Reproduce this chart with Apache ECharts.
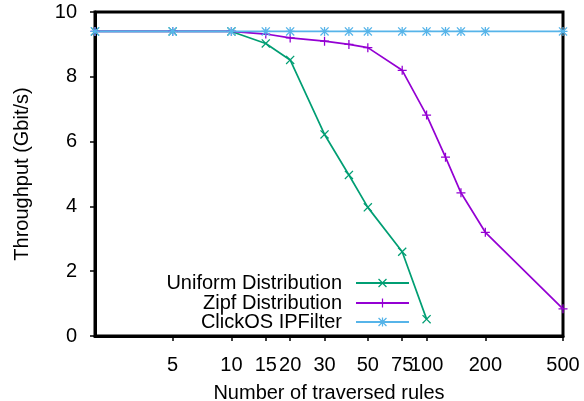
<!DOCTYPE html>
<html>
<head>
<meta charset="utf-8">
<script src="https://cdn.jsdelivr.net/npm/echarts@6/dist/echarts.min.js"></script>
<style>
html,body{margin:0;padding:0;background:#fff;}
#chart{width:584px;height:401px;}
</style>
</head>
<body>
<div id="chart"></div>
<script>
// ---- data ----
const seriesNames = ['Uniform Distribution', 'Zipf Distribution', 'ClickOS IPFilter'];
const uniformX = [2, 5, 10, 15, 20, 30, 40, 50, 75, 100];
const uniformY = [9.4, 9.4, 9.4, 9.03, 8.52, 6.22, 4.97, 3.97, 2.6, 0.52];
const zipfX = [2, 5, 10, 15, 20, 30, 40, 50, 75, 100, 125, 150, 200, 500];
const zipfY = [9.4, 9.4, 9.4, 9.32, 9.2, 9.1, 9.0, 8.9, 8.2, 6.82, 5.52, 4.42, 3.2, 0.84];
const clickX = [2, 5, 10, 15, 20, 30, 40, 50, 75, 100, 125, 150, 200, 500];
const clickY = [9.4, 9.4, 9.4, 9.4, 9.4, 9.4, 9.4, 9.4, 9.4, 9.4, 9.4, 9.4, 9.4, 9.4];
const xTickValues = [5, 10, 15, 20, 30, 50, 75, 100, 200, 500];
const yTickValues = [0, 2, 4, 6, 8, 10];

// ---- styles ----
const FONT = 'Liberation Sans';
const FS = 20;
const colors = ['#009e73', '#9400d3', '#56b4e9'];
const symPlus = 'path://M-0.7,-5L0.7,-5L0.7,-0.7L5,-0.7L5,0.7L0.7,0.7L0.7,5L-0.7,5L-0.7,0.7L-5,0.7L-5,-0.7L-0.7,-0.7Z';
const symX = 'path://M-5,-4L-4,-5L0,-1L4,-5L5,-4L1,0L5,4L4,5L0,1L-4,5L-5,4L-1,0Z';
const symStar = 'path://M-0.7,-5L0.7,-5L0.7,-0.7L5,-0.7L5,0.7L0.7,0.7L0.7,5L-0.7,5L-0.7,0.7L-5,0.7L-5,-0.7L-0.7,-0.7Z' +
  'M-5,-4L-4,-5L0,-1L4,-5L5,-4L1,0L5,4L4,5L0,1L-4,5L-5,4L-1,0Z';
const symbols = [symX, symPlus, symStar];

function pairs(xs, ys) { return xs.map((x, i) => [x, ys[i]]); }
const dataSets = [pairs(uniformX, uniformY), pairs(zipfX, zipfY), pairs(clickX, clickY)];

const chart = echarts.init(document.getElementById('chart'), null, {renderer: 'canvas'});

const legendTops = [273, 293, 312];
const legends = seriesNames.map((n, i) => ({
  data: [n],
  right: 174,
  top: legendTops[i],
  orient: 'vertical',
  align: 'right',
  itemWidth: 53,
  itemHeight: 11,
  padding: 0,
  textStyle: {fontFamily: FONT, fontSize: FS, color: '#000', padding: [0, 9, 0, 0]},
  selectedMode: false
}));

const option = {
  animation: false,
  backgroundColor: '#fff',
  color: colors,
  legend: legends,
  grid: {left: 95, right: 21, top: 12, bottom: 65, outerBoundsMode: 'none', containLabel: false,
    show: true, borderColor: '#000', borderWidth: 3, backgroundColor: 'transparent'},
  xAxis: {
    type: 'log',
    logBase: 10,
    min: 2,
    max: 500,
    name: 'Number of traversed rules',
    nameLocation: 'middle',
    nameGap: 47,
    nameTextStyle: {fontFamily: FONT, fontSize: FS, color: '#000'},
    axisLine: {lineStyle: {color: '#000', width: 3}},
    axisTick: {show: true, customValues: xTickValues, length: 5, lineStyle: {color: '#000', width: 1.5}},
    minorTick: {show: false},
    axisLabel: {customValues: xTickValues, hideOverlap: false, margin: 19, fontFamily: FONT, fontSize: FS, color: '#000',
      formatter: v => String(Math.round(v))},
    splitLine: {show: false},
    minorSplitLine: {show: false}
  },
  yAxis: {
    type: 'value',
    min: 0,
    max: 10,
    interval: 2,
    name: 'Throughput (Gbit/s)',
    nameLocation: 'middle',
    nameGap: 63,
    nameRotate: 90,
    nameTextStyle: {fontFamily: FONT, fontSize: FS, color: '#000'},
    axisLine: {show: true, lineStyle: {color: '#000', width: 3}},
    axisTick: {show: true, customValues: yTickValues, length: 5, lineStyle: {color: '#000', width: 1.5}},
    axisLabel: {customValues: yTickValues, margin: 18, fontFamily: FONT, fontSize: FS, color: '#000'},
    splitLine: {show: false}
  },
  series: dataSets.map((d, i) => ({
    name: seriesNames[i],
    type: 'line',
    data: d,
    symbol: symbols[i],
    symbolSize: 9,
    showAllSymbol: true,
    clip: false,
    lineStyle: {width: 1.7, color: colors[i]},
    itemStyle: {color: colors[i]},
    emphasis: {disabled: true}
  }))
};
chart.setOption(option);
</script>
</body>
</html>
